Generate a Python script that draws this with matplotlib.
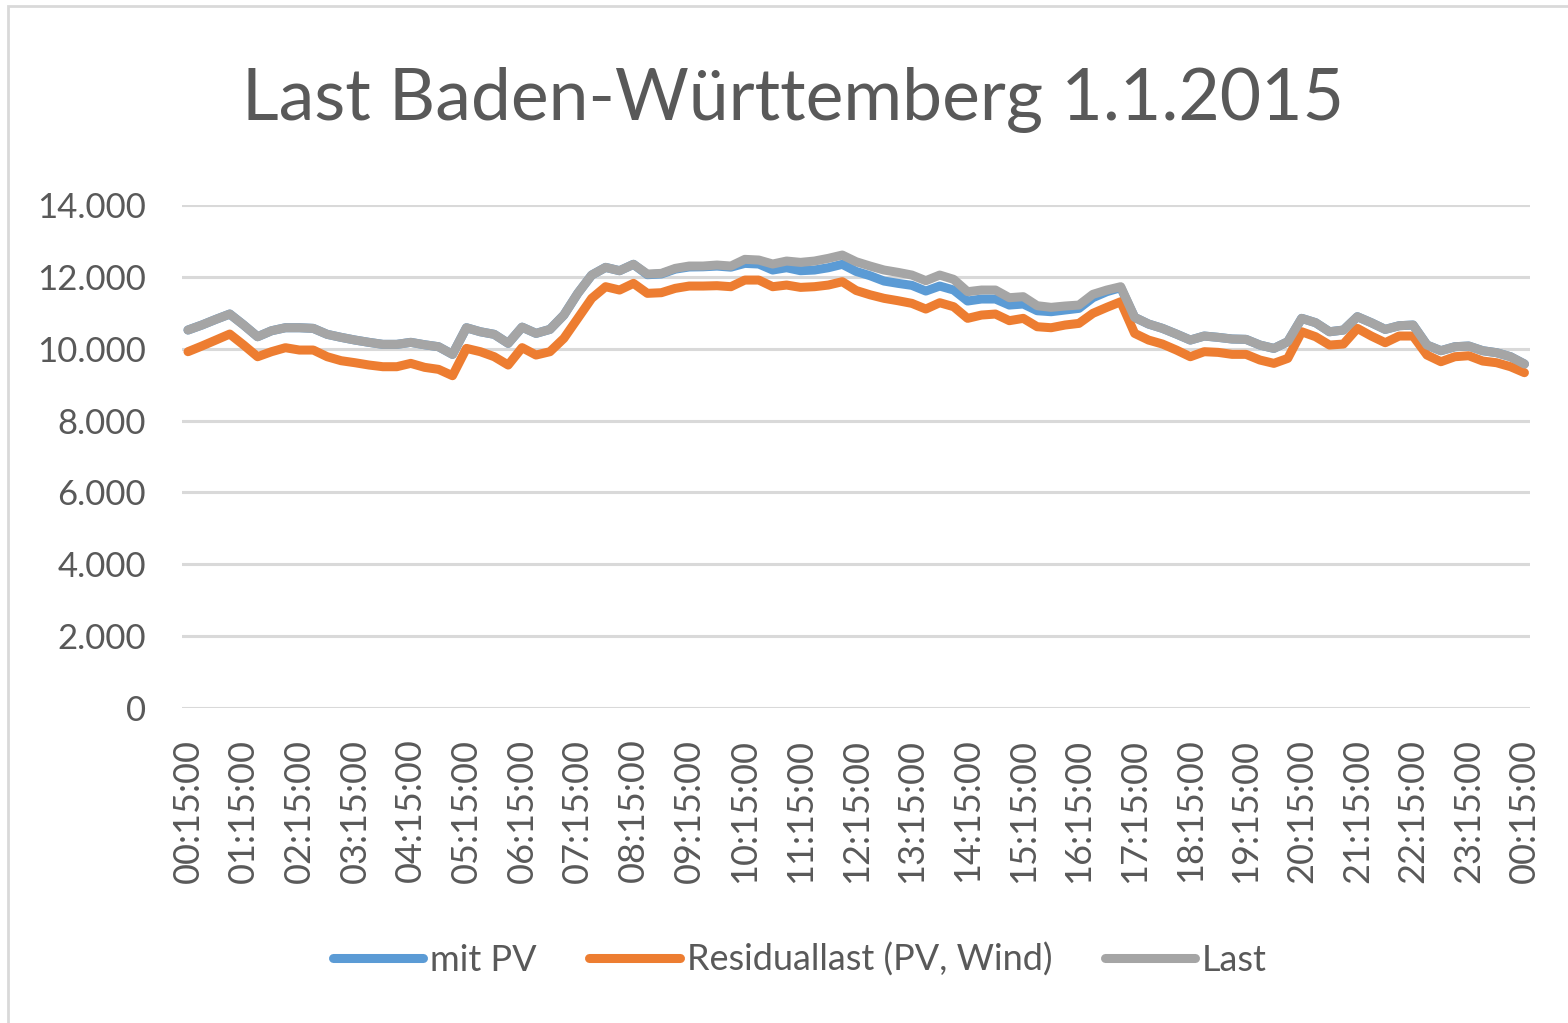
import matplotlib
matplotlib.use("Agg")
import matplotlib.pyplot as plt
from matplotlib.patches import Rectangle
from matplotlib.lines import Line2D
import numpy as np

plt.rcParams['font.family'] = ['Lato', 'DejaVu Sans']

time_labels = [
    "00:15:00", "01:15:00", "02:15:00", "03:15:00", "04:15:00", "05:15:00",
    "06:15:00", "07:15:00", "08:15:00", "09:15:00", "10:15:00", "11:15:00",
    "12:15:00", "13:15:00", "14:15:00", "15:15:00", "16:15:00", "17:15:00",
    "18:15:00", "19:15:00", "20:15:00", "21:15:00", "22:15:00", "23:15:00",
    "00:15:00",
]

last = [
    10520, 10660, 10817, 10965, 10660, 10334, 10500, 10584, 10584, 10566,
    10400, 10316, 10241, 10177, 10121, 10121, 10177, 10110, 10055, 9843,
    10584, 10472, 10400, 10150, 10600, 10427, 10538, 10937, 11541, 12050,
    12264, 12171, 12349, 12078, 12097, 12236, 12301, 12301, 12329, 12301,
    12487, 12468, 12357, 12440, 12403, 12440, 12515, 12607, 12420, 12300,
    12190, 12125, 12050, 11893, 12050, 11930, 11587, 11633, 11633, 11420,
    11448, 11197, 11151, 11188, 11215, 11513, 11633, 11726, 10873, 10687,
    10566, 10408, 10241, 10353, 10316, 10270, 10260, 10102, 10009, 10195,
    10845, 10724, 10472, 10520, 10891, 10724, 10538, 10640, 10659, 10102,
    9945, 10055, 10075, 9945, 9889, 9777, 9574,
]

mit_pv = [
    10520, 10660, 10817, 10965, 10660, 10334, 10500, 10584, 10584, 10566,
    10400, 10316, 10241, 10177, 10121, 10121, 10177, 10110, 10055, 9843,
    10584, 10472, 10400, 10150, 10600, 10427, 10538, 10937, 11541, 12050,
    12264, 12171, 12349, 12060, 12080, 12215, 12275, 12280, 12300, 12270,
    12375, 12357, 12190, 12254, 12171, 12190, 12254, 12349, 12150, 12031,
    11883, 11819, 11763, 11605, 11744, 11633, 11327, 11383, 11383, 11215,
    11244, 11057, 11030, 11077, 11123, 11420, 11587, 11700, 10873, 10687,
    10566, 10408, 10241, 10353, 10316, 10270, 10260, 10102, 10009, 10195,
    10845, 10724, 10472, 10520, 10891, 10724, 10538, 10640, 10659, 10102,
    9945, 10055, 10075, 9945, 9889, 9777, 9574,
]

residuallast = [
    9917, 10075, 10241, 10408, 10102, 9777, 9917, 10028, 9963, 9963,
    9777, 9666, 9610, 9546, 9499, 9499, 9592, 9481, 9425, 9249,
    10009, 9917, 9777, 9546, 10030, 9824, 9917, 10288, 10845, 11402,
    11726, 11633, 11819, 11541, 11559, 11680, 11744, 11744, 11754, 11726,
    11911, 11911, 11726, 11772, 11707, 11726, 11772, 11865, 11620, 11500,
    11402, 11336, 11262, 11104, 11280, 11169, 10845, 10937, 10965, 10780,
    10845, 10612, 10584, 10659, 10705, 10984, 11151, 11307, 10427, 10241,
    10130, 9963, 9777, 9917, 9898, 9843, 9843, 9685, 9592, 9731,
    10472, 10334, 10102, 10130, 10566, 10353, 10167, 10353, 10353, 9824,
    9638, 9777, 9805, 9657, 9610, 9499, 9333,
]

series_names = ["mit PV", "Residuallast (PV, Wind)", "Last"]
colors = ["#5B9BD5", "#ED7D31", "#A5A5A5"]
text_color = "#595959"
grid_color = "#D9D9D9"

W, H = 1568, 1023
fig = plt.figure(figsize=(W / 100, H / 100), dpi=100)

# chart frame
fig.patches.append(Rectangle((8 / W, -0.01), 1.1, (H - 6) / H + 0.01,
                             transform=fig.transFigure, fill=False,
                             edgecolor=grid_color, linewidth=2))

ax = fig.add_axes([182 / W, 1 - 708 / H, (1530 - 182) / W, (708 - 205) / H])
x = np.arange(len(last))
for vals, c, name in zip([mit_pv, residuallast, last], colors, series_names):
    ax.plot(x, vals, color=c, linewidth=6.5, solid_joinstyle='round',
            solid_capstyle='round', label=name)

ax.set_ylim(0, 14000)
ax.set_xlim(-0.43, 96.4)
ax.set_yticks(np.arange(0, 14001, 2000))
ax.set_yticklabels([f"{v:,}".replace(",", ".") for v in range(0, 14001, 2000)])
ax.set_xticks(np.arange(0, 97, 4))
ax.set_xticklabels(time_labels, rotation=90)
ax.tick_params(axis='both', length=0, colors=text_color)
ax.tick_params(axis='y', pad=26, labelsize=25)
ax.tick_params(axis='x', pad=22, labelsize=26)
ax.grid(axis='y', color=grid_color, linewidth=2.2)
ax.set_axisbelow(True)
for s in ax.spines.values():
    s.set_visible(False)

fig.text(793 / W, 1 - 100 / H, "Last Baden-Württemberg 1.1.2015",
         ha='center', va='center', fontsize=51.5, color=text_color)

handles = [Line2D([], [], color=c, linewidth=6.5, solid_capstyle='round')
           for c in colors]
fig.legend(handles, series_names, loc='center', bbox_to_anchor=(800 / W, 1 - 960 / H),
           ncol=3, frameon=False, fontsize=26, labelcolor=text_color,
           handlelength=2.5, handletextpad=0.2, columnspacing=1.45)

fig.savefig("out.png", dpi=100)
